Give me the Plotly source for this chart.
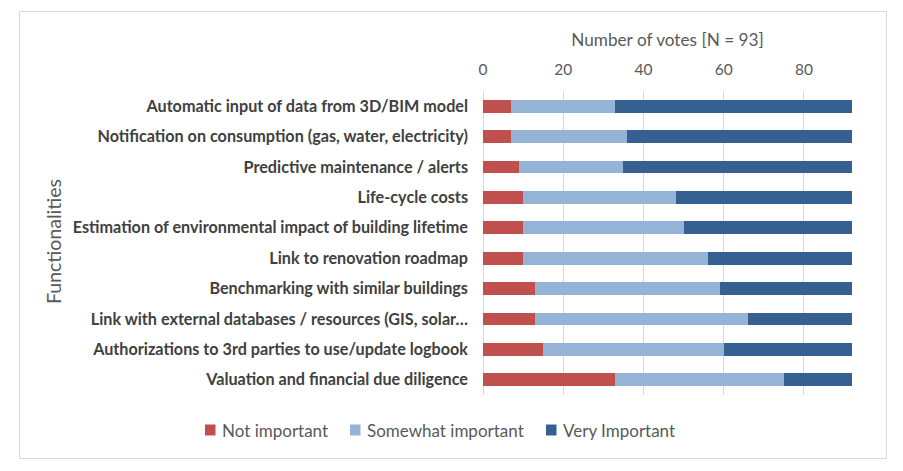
import plotly.graph_objects as go

categories = [
    "Automatic input of data from 3D/BIM model",
    "Notification on consumption (gas, water, electricity)",
    "Predictive maintenance / alerts",
    "Life-cycle costs",
    "Estimation of environmental impact of building lifetime",
    "Link to renovation roadmap",
    "Benchmarking with similar buildings",
    "Link with external databases / resources (GIS, solar…",
    "Authorizations to 3rd parties to use/update logbook",
    "Valuation and financial due diligence",
]
not_important = [7, 7, 9, 10, 10, 10, 13, 13, 15, 33]
somewhat_important = [26, 29, 26, 38, 40, 46, 46, 53, 45, 42]
very_important = [59, 56, 57, 44, 42, 36, 33, 26, 32, 17]
x_ticks = [0, 20, 40, 60, 80]

series_names = ["Not important", "Somewhat important", "Very Important"]
series_values = [not_important, somewhat_important, very_important]
series_colors = ["#C0504D", "#95B3D7", "#366092"]

FONT = "Lato"
fig = go.Figure()
for name, vals, col in zip(series_names, series_values, series_colors):
    fig.add_trace(go.Bar(
        y=categories, x=vals, name=name, orientation="h",
        marker=dict(color=col, line=dict(width=0)), width=0.42,
        showlegend=False,
    ))

# screen coordinates (page has 8px body margin)
OFF = 8
SL, SR, ST, SB = 483, 852, 91, 395   # plot area in screen pixels
W, H = 903 - OFF, 471 - OFF
pw, ph = SR - SL, SB - ST

def px(x):
    return (x - SL) / pw

def py(y):
    return (SB - y) / ph

shapes = [dict(
    type="rect", xref="paper", yref="paper",
    x0=px(19.5), x1=px(886.5), y0=py(458.5), y1=py(11.5),
    line=dict(color="#D9D9D9", width=1), fillcolor="rgba(0,0,0,0)", layer="below",
)]
annotations = [dict(
    text="Functionalities", textangle=-90, xref="paper", yref="paper",
    x=px(53), y=py(242), xanchor="center", yanchor="middle", showarrow=False,
    font=dict(size=19.5, color="#595959"),
)]

# legend drawn manually: square + label
legend_square_x = [205, 350, 546]
leg_y = 430
for name, col, sx in zip(series_names, series_colors, legend_square_x):
    shapes.append(dict(
        type="rect", xref="paper", yref="paper",
        x0=px(sx), x1=px(sx + 10.5), y0=py(leg_y + 5.5), y1=py(leg_y - 5.5),
        line=dict(width=0), fillcolor=col,
    ))
    annotations.append(dict(
        text=name, xref="paper", yref="paper", x=px(sx + 15), y=py(leg_y),
        xanchor="left", yanchor="middle", showarrow=False,
        font=dict(size=17, color="#595959"),
    ))

fig.update_layout(
    width=W, height=H, barmode="stack", showlegend=False,
    margin=dict(l=SL - OFF, r=W - (SR - OFF), t=ST - OFF, b=H - (SB - OFF), autoexpand=False),
    paper_bgcolor="white", plot_bgcolor="white",
    font=dict(family=FONT, color="#595959", size=15),
    xaxis=dict(
        side="top", range=[0, 92], tickvals=x_ticks,
        showgrid=True, gridcolor="#D9D9D9", gridwidth=1,
        zeroline=True, zerolinecolor="#D9D9D9", zerolinewidth=1,
        tickfont=dict(size=15.5, color="#595959"),
        ticklabelstandoff=12,
        title=dict(text="Number of votes [N = 93]", font=dict(size=17.2, color="#595959"), standoff=8),
    ),
    yaxis=dict(
        autorange="reversed", showgrid=False, zeroline=False,
        tickfont=dict(size=16.2, color="#404040", weight="bold"),
        ticklabelstandoff=14,
    ),
    annotations=annotations,
    shapes=shapes,
)

fig.write_html("out.html")
